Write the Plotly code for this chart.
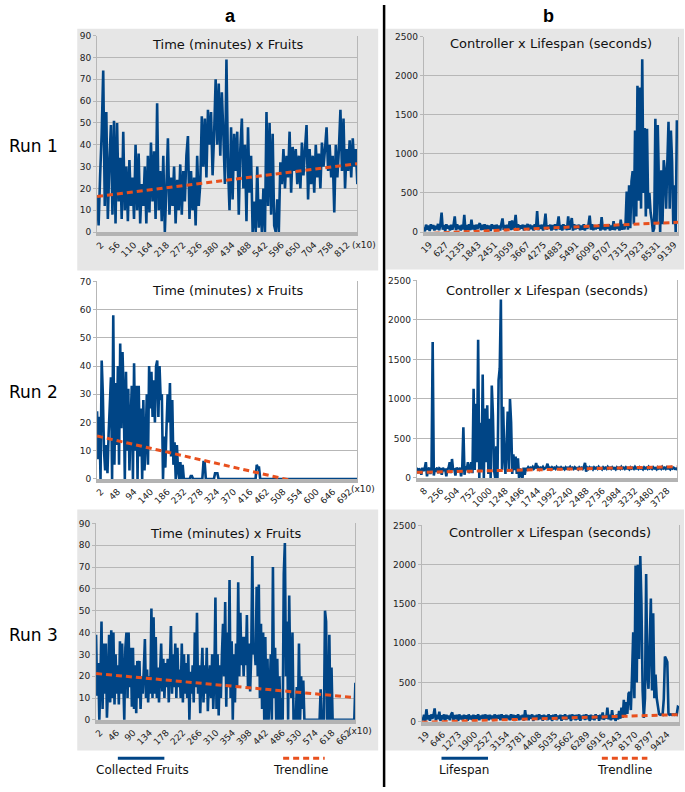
import numpy as np
import plotly.graph_objects as go

W, H = 685, 792
BLUE = "#004586"
ORANGE = "#e8501e"
BOXGRAY = "#e6e6e6"
GRID = "#b7b7b7"
AXIS = "#b3b3b3"
FONT = "DejaVu Sans"

# ---------------- data ----------------
# Run 1 - collected fruits (x10 minutes)
fruits_run1 = [
    17, 3, 26, 45, 74, 12, 55, 6, 32, 49,
    8, 51, 4, 50, 14, 34, 6, 46, 10, 30,
    5, 33, 12, 25, 6, 40, 10, 36, 4, 22,
    12, 30, 4, 35, 9, 41, 14, 37, 6, 59,
    10, 28, 5, 35, 0, 20, 43, 8, 25, 12,
    30, 4, 24, 10, 31, 8, 28, 14, 35, 44,
    6, 28, 10, 25, 3, 35, 12, 22, 53, 30,
    52, 25, 56, 40, 55, 26, 45, 70, 40, 68,
    35, 64, 45, 22, 79, 30, 10, 48, 15, 45,
    28, 46, 8, 38, 52, 20, 40, 5, 48, 18,
    35, 0, 14, 0, 30, 2, 15, 0, 20, 0,
    55, 12, 50, 8, 45, 3, 0, 15, 0, 32,
    22, 38, 20, 35, 25, 46, 18, 39, 28, 38,
    22, 35, 20, 41, 26, 38, 49, 15, 38, 22,
    35, 18, 40, 25, 36, 20, 41, 30, 38, 48,
    28, 40, 25, 35, 9, 40, 25, 38, 56, 28,
    52, 20, 38, 28, 42, 25, 43, 30, 38, 22,
]
trend_fruits_run1 = [16.3, 31.3]

# Run 1 - lifespan (seconds) per controller
lifespan_run1 = [
    60, 10, 95, 30, 85, 15, 100, 40, 90, 20,
    80, 35, 105, 25, 95, 250, 30, 90, 15, 100,
    45, 85, 20, 95, 30, 90, 200, 25, 100, 40,
    85, 20, 95, 35, 220, 15, 90, 30, 100, 25,
    160, 35, 90, 20, 95, 40, 85, 115, 25, 95,
    30, 100, 20, 90, 35, 85, 15, 100, 40, 90,
    25, 95, 30, 85, 20, 100, 175, 30, 90, 15,
    95, 40, 140, 25, 150, 35, 90, 220, 20, 100,
    30, 85, 45, 95, 20, 90, 35, 105, 25, 95,
    40, 85, 20, 100, 30, 270, 25, 90, 40, 95,
    20, 100, 235, 30, 85, 45, 95, 20, 90, 35,
    100, 25, 95, 200, 30, 90, 20, 100, 40, 85,
    25, 200, 30, 95, 180, 20, 100, 35, 90, 45,
    95, 25, 85, 30, 100, 20, 90, 40, 95, 210,
    30, 100, 25, 90, 35, 85, 45, 100, 20, 190,
    35, 95, 25, 90, 40, 100, 20, 85, 30, 140,
    25, 95, 40, 90, 20, 160, 30, 100, 35, 95,
    520, 30, 600, 50, 650, 780, 100, 1300, 200, 1870,
    400, 1850, 300, 2210, 500, 1330, 200, 1320, 300, 500,
    250, 150, 0, 50, 1450, 100, 1370, 600, 0, 790,
    100, 920, 780, 300, 870, 1410, 300, 1300, 900, 100,
    600, 0, 1430, 1220,
]
trend_lifespan_run1 = [-20, 126]

# Run 2 - collected fruits
fruits_run2 = [
    24, 7, 22, 0, 42, 30, 10, 3, 12, 2,
    16, 26, 36, 0, 58, 5, 34, 12, 40, 5,
    48, 18, 45, 30, 0, 38, 10, 32, 3, 20,
    33, 0, 41, 10, 33, 0, 33, 8, 25, 0,
    28, 3, 13, 30, 5, 40, 25, 38, 22, 35,
    20, 40, 42, 22, 40, 28, 30, 0, 15, 4,
    18, 30, 20, 34, 8, 28, 5, 13, 0, 12,
    3, 0, 6, 0, 5, 0,
    0, 0, 0, 0, 0, 1, 1, 0, 0, 0,
    0, 0, 0, 0, 0, 0, 6, 6, 0, 0,
    0, 0, 0, 0, 0, 0, 2, 2, 2, 0,
    0, 0, 0, 0, 0, 0, 0, 0, 0, 0,
    0, 0, 0, 0, 0, 0, 0, 0, 0, 0,
    0, 0, 0, 0, 0, 0, 0, 0, 0, 0,
    0, 0, 5, 4, 4, 0, 0, 0, 0, 0,
    0, 0, 0, 0, 0, 0, 0, 0, 0, 0,
    0, 0, 0, 0, 0, 0, 0, 0, 0, 0,
    0, 0, 0, 0, 0, 0, 0, 0, 0, 0,
    0, 0, 0, 0, 0, 0, 0, 0, 0, 0,
    0, 0, 0, 0, 0, 0, 0, 0, 0, 0,
    0, 0, 0, 0, 0, 0, 0, 0, 0, 0,
    0, 0, 0, 0, 0, 0, 0, 0, 0, 0,
    0, 0, 0, 0, 0, 0, 0, 0, 0, 0,
]
trend_fruits_run2 = [15.2, -5.9]

# Run 2 - lifespan
lifespan_run2 = [
    130, 60, 120, 100, 40, 130, 90, 120, 200, 20,
    110, 130, 50, 120, 1720, 30, 120, 100, 130, 60,
    120, 110, 40, 130, 90, 120, 20, 110, 130, 200,
    60, 240, 100, 120, 30, 130, 110, 80, 130, 20,
    120, 640, 40, 150, 100, 200, 60, 130,
    200, 60, 1130, 100, 940, 200, 1750, 0, 700, 100,
    1310, 0, 880, 200, 920, 50, 750, 0, 1170, 800,
    100, 0, 400, 0, 1240, 1390, 2260, 100, 900, 300,
    50, 400, 840, 100, 1000, 700, 50, 300, 100, 270,
    50, 250, 0, 120, 30,
    0, 130, 40, 125, 110, 135, 115, 130, 120, 140,
    115, 130, 190, 120, 135, 110, 130, 120, 140, 115,
    125, 135, 180, 120, 130, 110, 135, 120, 130, 115,
    140, 120, 130, 115, 135, 120, 125, 110, 135, 120,
    130, 115, 140, 120, 130, 115, 135, 120, 125, 110,
    135, 120, 130, 115, 140, 190, 80, 130, 115, 135,
    120, 130, 110, 135, 120, 130, 115, 140, 120, 125,
    110, 135, 120, 130, 115, 140, 120, 130, 115, 135,
    120, 125, 110, 135, 120, 130, 115, 140, 120, 130,
    115, 135, 120, 125, 110, 135, 120, 130, 115, 140,
    120, 130, 115, 135, 120, 125, 110, 135, 120, 130,
    115, 140, 120, 130, 115, 135, 120, 125, 110, 135,
    120, 130, 115, 140, 120, 130, 115, 135, 120, 125,
    110, 135, 120, 130, 115, 120, 100,
]
trend_lifespan_run2 = [71, 142]

# Run 3 - collected fruits
fruits_run3 = [
    39, 11, 26, 0, 18, 45, 5, 35, 12, 35,
    1, 15, 39, 8, 41, 10, 40, 7, 30, 12,
    25, 7, 36, 12, 35, 20, 0, 33, 40, 10,
    40, 15, 33, 6, 33, 5, 25, 3, 27, 10,
    27, 5, 20, 12, 23, 37, 10, 23, 8, 20,
    12, 51, 10, 47, 12, 38, 10, 24, 8, 22,
    35, 13, 28, 10, 26, 15, 28, 8, 24, 43,
    12, 30, 15, 35, 10, 33, 15, 23, 10, 35,
    8, 30, 12, 26, 10, 30, 0, 22, 12, 25,
    8, 40, 15, 49, 12, 25, 3, 20, 33, 8,
    25, 12, 33, 4, 18, 25, 10, 30, 5, 20,
    56, 5, 30, 2, 25, 10, 30, 44, 20, 54,
    6, 40, 15, 64, 10, 36, 0, 30, 8, 35,
    15, 63, 20, 49, 25, 38, 20, 38, 25, 48,
    15, 35, 13, 30, 75, 30, 35, 25, 61, 20,
    62, 10, 44, 5, 40, 0, 38, 0, 28, 0,
    12, 30, 0, 70, 10, 33, 0, 28, 0, 20,
    0, 10, 0, 67, 81, 20, 45, 0, 57, 20,
    10, 40, 0, 3, 0, 15, 0, 35, 0, 20,
    5, 18, 0, 0, 0, 0, 0, 0, 0, 0,
    0, 0, 0, 0, 0, 0, 0, 14, 0, 0,
    0, 50, 45, 0, 0, 39, 0, 24, 0, 0,
    0, 0, 0, 0, 0, 0, 0, 0, 0, 0,
    0, 0, 0, 0, 0, 0, 0, 0, 0, 17,
]
trend_fruits_run3 = [21.2, 10.2]

# Run 3 - lifespan
lifespan_run3 = [
    60, 20, 90, 10, 160, 30, 85, 15, 95, 40,
    80, 170, 20, 90, 35, 130, 10, 85, 30, 95,
    15, 90, 40, 80, 20, 95, 120, 25, 85, 35,
    90, 10, 95, 30, 80, 20, 90, 40, 85, 15,
    95, 30, 80, 25, 90, 10, 85, 35, 95, 20,
    80, 40, 90, 15, 95, 30, 85, 20, 90, 35,
    80, 10, 95, 25, 85, 40, 90, 20, 95, 30,
    85, 15, 90, 35, 80, 20, 95, 30, 90, 10,
    85, 40, 95, 20, 80, 30, 90, 15, 150, 35,
    90, 20, 85, 40, 95, 10, 80, 30, 90, 25,
    95, 35, 85, 15, 90, 40, 80, 20, 95, 30,
    85, 10, 90, 35, 95, 20, 80, 40, 90, 15,
    85, 30, 95, 25, 80, 40, 90, 10, 95, 35,
    85, 20, 90, 30, 95, 15, 80, 40, 90, 25,
    95, 35, 85, 10, 90, 30, 80, 20, 95, 40,
    85, 15, 90, 35, 120, 25, 80, 40, 180, 30,
    90, 20, 150, 35, 85, 10, 95, 30, 140, 40,
    180, 50, 280, 80, 250, 100, 360, 380, 150, 600,
    1140, 300, 1990, 500, 2000, 800, 2110, 1500, 400, 50,
    300, 1880, 600, 420, 1000, 1570, 400, 1380, 300, 600,
    300, 200,
    100, 90, 95, 90, 290, 830, 800, 760, 100, 90,
    95, 90, 95, 90, 95, 90, 190, 180,
]
trend_lifespan_run3 = [-5, 92]

# category spans (first/last category shown) and tick labels
span_L1 = [-11, 846]
span_R1 = [-200, 9290]
span_L2 = [-9, 714]
span_R2 = [-113, 3880]
span_L3 = [-8.5, 680]
span_R3 = [-175, 9888]

ticks_L1 = [2, 56, 110, 164, 218, 272, 326, 380, 434, 488, 542, 596, 650, 704, 758, 812]
ticks_R1 = [19, 627, 1235, 1843, 2451, 3059, 3667, 4275, 4883, 5491, 6099, 6707, 7315, 7923, 8531, 9139]
ticks_L2 = [2, 48, 94, 140, 186, 232, 278, 324, 370, 416, 462, 508, 554, 600, 646, 692]
ticks_R2 = [8, 256, 504, 752, 1000, 1248, 1496, 1744, 1992, 2240, 2488, 2736, 2984, 3232, 3480, 3728]
ticks_L3 = [2, 46, 90, 134, 178, 222, 266, 310, 354, 398, 442, 486, 530, 574, 618, 662]
ticks_R3 = [19, 646, 1273, 1900, 2527, 3154, 3781, 4408, 5035, 5662, 6289, 6916, 7543, 8170, 8797, 9424]

title_fruits = "Time (minutes) x Fruits"
title_life = "Controller x Lifespan (seconds)"

# ---------------- layout helpers ----------------
def px(x):
    return x / W


def py(y):
    return 1 - y / H


panels = [
    dict(box=(92, 355, 31, 230), vals=fruits_run1, trend=trend_fruits_run1, span=span_L1,
         ticks=ticks_L1, ymax=90, dy=10, title=title_fruits, ty=40),
    dict(box=(422, 679, 32, 230), vals=lifespan_run1, trend=trend_lifespan_run1, span=span_R1,
         ticks=ticks_R1, ymax=2500, dy=500, title=title_life, ty=39),
    dict(box=(92, 355, 280, 480), vals=fruits_run2, trend=trend_fruits_run2, span=span_L2,
         ticks=ticks_L2, ymax=70, dy=10, title=title_fruits, ty=289),
    dict(box=(415, 678, 279, 479), vals=lifespan_run2, trend=trend_lifespan_run2, span=span_R2,
         ticks=ticks_R2, ymax=2500, dy=500, title=title_life, ty=289),
    dict(box=(91, 353, 525, 724), vals=fruits_run3, trend=trend_fruits_run3, span=span_L3,
         ticks=ticks_L3, ymax=90, dy=10, title=title_fruits, ty=535),
    dict(box=(420, 680, 527, 726), vals=lifespan_run3, trend=trend_lifespan_run3, span=span_R3,
         ticks=ticks_R3, ymax=2500, dy=500, title=title_life, ty=534),
]

fig = go.Figure()
layout = {}
annotations = []
shapes = []

# gray panel boxes (runs 1 and 3)
for (x0, x1, y0, y1) in [(72, 376, 24, 269), (384, 685, 24, 268), (72, 376, 511, 755), (383, 685, 511, 755)]:
    shapes.append(dict(type="rect", xref="paper", yref="paper", x0=px(x0), x1=px(x1), y0=py(y1), y1=py(y0),
                       fillcolor=BOXGRAY, line=dict(width=0), layer="below"))

tickfont = dict(family=FONT, size=9, color="#222222")

for i, p in enumerate(panels, start=1):
    xa = "x" if i == 1 else f"x{i}"
    ya = "y" if i == 1 else f"y{i}"
    xname = "xaxis" if i == 1 else f"xaxis{i}"
    yname = "yaxis" if i == 1 else f"yaxis{i}"
    l, r, t, b = p["box"]
    xs = np.linspace(p["span"][0], p["span"][1], len(p["vals"]))
    fig.add_trace(go.Scatter(x=xs, y=p["vals"], mode="lines", xaxis=xa, yaxis=ya,
                             line=dict(color=BLUE, width=2.6, simplify=False),
                             showlegend=False, hoverinfo="skip"))
    fig.add_trace(go.Scatter(x=p["span"], y=p["trend"], mode="lines", xaxis=xa, yaxis=ya,
                             line=dict(color=ORANGE, width=3, dash="6px,4px"),
                             showlegend=False, hoverinfo="skip"))
    layout[xname] = dict(domain=[px(l), px(r)], range=p["span"], anchor=ya,
                         tickmode="array", tickvals=p["ticks"], ticktext=[str(v) for v in p["ticks"]],
                         tickangle=-45, tickfont=tickfont, showgrid=False, zeroline=False,
                         showline=True, linecolor=AXIS, linewidth=4, ticks="", fixedrange=True)
    layout[yname] = dict(domain=[py(b), py(t)], range=[0, p["ymax"]], dtick=p["dy"], anchor=xa,
                         tickfont=tickfont, showgrid=True, gridcolor=GRID, gridwidth=1,
                         zeroline=False, showline=True, mirror=True, linecolor=GRID, linewidth=1,
                         ticks="outside", ticklen=3, tickcolor=GRID, fixedrange=True)
    annotations.append(dict(text=p["title"], xref="paper", yref="paper", x=px((l + r) / 2), y=py(p["ty"]),
                            xanchor="center", yanchor="middle", showarrow=False,
                            font=dict(family=FONT, size=13, color="#111111")))

# "(x10)" markers on the fruits axes
for (x, y) in [(362, 243), (361, 490), (358, 735)]:
    annotations.append(dict(text="(x10)", xref="paper", yref="paper", x=px(x), y=py(y),
                            xanchor="center", yanchor="middle", showarrow=False,
                            font=dict(family=FONT, size=9, color="#222222")))

# column letters
for (txt, x) in [("a", 227), ("b", 548)]:
    annotations.append(dict(text=f"<b>{txt}</b>", xref="paper", yref="paper", x=px(x), y=py(11),
                            xanchor="center", yanchor="middle", showarrow=False,
                            font=dict(family="Liberation Sans", size=18, color="#000000")))

# run labels
for (txt, y) in [("Run 1", 143), ("Run 2", 392), ("Run 3", 638)]:
    annotations.append(dict(text=txt, xref="paper", yref="paper", x=px(1), y=py(y),
                            xanchor="left", yanchor="middle", showarrow=False,
                            font=dict(family=FONT, size=17, color="#000000")))

# divider
shapes.append(dict(type="line", xref="paper", yref="paper", x0=px(382), x1=px(382), y0=0, y1=1,
                   line=dict(color="#000000", width=2.5)))

# legend keys
for (x0, x1, color, dash) in [(113, 160, BLUE, "solid"), (280, 322, ORANGE, "6px,4px"),
                              (440, 487, BLUE, "solid"), (602, 648, ORANGE, "6px,4px")]:
    shapes.append(dict(type="line", xref="paper", yref="paper", x0=px(x0), x1=px(x1), y0=py(763), y1=py(763),
                       line=dict(color=color, width=3, dash=dash)))
for (txt, x) in [("Collected Fruits", 138), ("Trendline", 298), ("Lifespan", 463), ("Trendline", 625)]:
    annotations.append(dict(text=txt, xref="paper", yref="paper", x=px(x), y=py(775),
                            xanchor="center", yanchor="middle", showarrow=False,
                            font=dict(family=FONT, size=12, color="#111111")))

fig.update_layout(width=W, height=H, autosize=False, margin=dict(l=0, r=0, t=0, b=0),
                  paper_bgcolor="white", plot_bgcolor="rgba(0,0,0,0)",
                  shapes=shapes, annotations=annotations, showlegend=False, **layout)

fig.write_html("out.html", config={"displayModeBar": False},
               post_script="document.body.style.margin='0px';document.body.style.overflow='hidden';")
